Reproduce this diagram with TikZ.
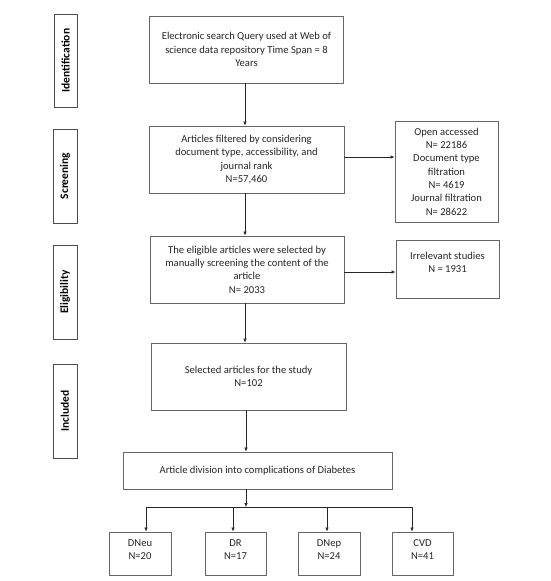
\documentclass[tikz,border=0pt]{standalone}
\usepackage{fontspec}
\setmainfont{Carlito}
\usetikzlibrary{arrows.meta}
\begin{document}
\begin{tikzpicture}[x=1pt,y=-1pt,
  box/.style={draw=black!60,line width=0.9pt,fill=white,align=center,font=\fontsize{10.6}{13.3}\selectfont,inner sep=2pt,text=black!85},
  stage/.style={draw=black!70,line width=0.9pt,fill=white,rotate=90,font=\bfseries\fontsize{11.5}{12}\selectfont,inner sep=0pt},
  arr/.style={-{Latex[length=4pt,width=3.5pt]},line width=0.6pt,black!85}]
\useasboundingbox (0,0) rectangle (551,581);
% stage labels
\node[stage,minimum width=93pt,minimum height=23pt] (lid) at (65.5,60.5) {Identification};
\node[stage,minimum width=94pt,minimum height=24pt] (lsc) at (65,176) {Screening};
\node[stage,minimum width=94pt,minimum height=24pt] (lel) at (65,292) {Eligibility};
\node[stage,minimum width=94pt,minimum height=24pt] (lin) at (65,411) {Included};
% main boxes
\node[box,minimum width=194pt,minimum height=67pt] (b1) at (246.5,49.5) {Electronic search Query used at Web of\\science data repository Time Span = 8\\Years};
\node[box,minimum width=195pt,minimum height=67pt] (b2) at (246.5,159.5) {Articles filtered by considering\\document type, accessibility, and\\journal rank\\N=57,460};
\node[box,minimum width=194pt,minimum height=67pt] (b3) at (247,269.5) {The eligible articles were selected by\\manually screening the content of the\\article\\N= 2033};
\node[box,minimum width=195pt,minimum height=67pt] (b4) at (248.5,376.5) {Selected articles for the study\\N=102};
\node[box,minimum width=269pt,minimum height=37pt] (b5) at (257.5,470.5) {Article division into complications of Diabetes};
% side boxes
\node[box,minimum width=103pt,minimum height=101pt] (s1) at (446.5,171.5) {Open accessed\\N= 22186\\Document type\\filtration\\N= 4619\\Journal filtration\\N= 28622};
\node[box,minimum width=103pt,minimum height=58pt] (s2) at (447.5,269) {Irrelevant studies\\N = 1931\\\mbox{}};
% bottom boxes
\node[box,minimum width=62pt,minimum height=43pt] (c1) at (140,553.5) {DNeu\\N=20\\[-5pt]\mbox{}};
\node[box,minimum width=61pt,minimum height=43pt] (c2) at (235.5,553.5) {DR\\N=17\\[-5pt]\mbox{}};
\node[box,minimum width=62pt,minimum height=43pt] (c3) at (329,553.5) {DNep\\N=24\\[-5pt]\mbox{}};
\node[box,minimum width=61pt,minimum height=43pt] (c4) at (422.5,553.5) {CVD\\N=41\\[-5pt]\mbox{}};
% connectors
\draw[arr] (b1.south -| 245,0) -- (b2.north -| 245,0);
\draw[arr] (b2.south -| 245,0) -- (b3.north -| 245,0);
\draw[arr] (b3.south -| 245,0) -- (b4.north -| 245,0);
\draw[arr] (b4.south -| 246,0) -- (b5.north -| 246,0);
\draw[arr] (b2.east |- 0,157) -- (s1.west |- 0,157);
\draw[arr] (b3.east |- 0,272) -- (s2.west |- 0,272);
\coordinate (j) at (246,507);
\coordinate (jl) at (146,507);
\coordinate (jr) at (412,507);
\draw[arr] (b5.south -| j) -- (j);
\draw[line width=0.6pt,black!85] (jl) -- (jr);
\draw[arr] (jl) -- (c1.north -| jl);
\draw[arr] (233,507) -- (c2.north -| 233,0);
\draw[arr] (327,507) -- (c3.north -| 327,0);
\draw[arr] (jr) -- (c4.north -| jr);
\end{tikzpicture}
\end{document}
